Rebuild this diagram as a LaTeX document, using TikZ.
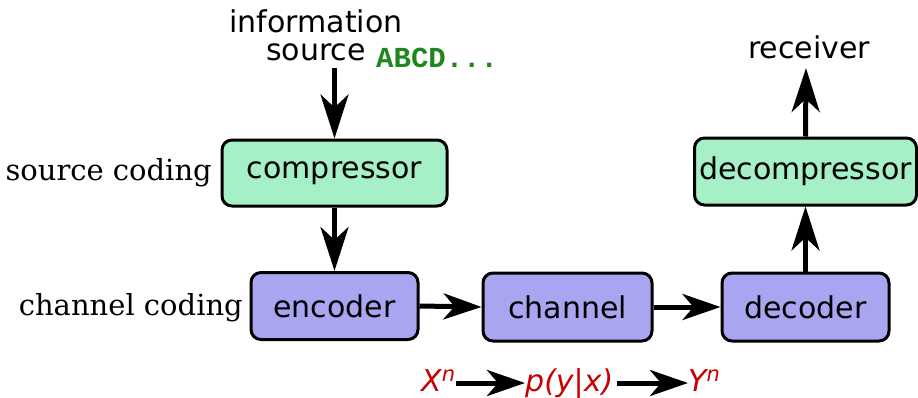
\documentclass[tikz,border=0pt]{standalone}
\usepackage{fontspec}
\setmainfont{DejaVu Sans}
\newfontfamily\lblserif{DejaVu Serif}
\newfontfamily\lblmono{Liberation Mono}
\usetikzlibrary{arrows.meta}
\definecolor{boxgreen}{RGB}{166,240,200}
\definecolor{boxpurple}{RGB}{170,165,240}
\definecolor{sigred}{RGB}{200,0,0}
\definecolor{txtgreen}{RGB}{30,135,30}
\tikzset{
  blk/.style={draw=black, line width=3pt, rounded corners=10pt, inner sep=0pt,
    font=\fontsize{30}{36}\selectfont},
  srcblk/.style={blk, fill=boxgreen},
  chblk/.style={blk, fill=boxpurple},
  lbl/.style={inner sep=0pt, font=\fontsize{30}{36}\selectfont},
  side/.style={inner sep=0pt, font=\lblserif\fontsize{29}{34}\selectfont},
  sig/.style={inner sep=0pt, text=sigred, font=\itshape\fontsize{30}{36}\selectfont},
  arr/.style={line width=5pt, -{Stealth[length=44pt, width=28pt, inset=13pt]}},
  sarr/.style={line width=5pt, -{Stealth[length=38pt, width=26pt, inset=11pt]}},
}
\begin{document}
\begin{tikzpicture}[x=1pt,y=-1pt]
\useasboundingbox (0,0) rectangle (918,397);
% blocks
\node[srcblk, minimum width=225pt, minimum height=66pt] (comp) at (334.5,173) {compressor};
\node[chblk, minimum width=167pt, minimum height=67pt] (enc) at (334.5,306) {encoder};
\node[chblk, minimum width=169pt, minimum height=68pt] (chan) at (567.5,307) {channel};
\node[chblk, minimum width=167pt, minimum height=68pt] (dec) at (805.5,307) {decoder};
\node[srcblk, minimum width=222pt, minimum height=67pt] (decomp) at (805.5,171.5) {decompressor};
% labels
\node[lbl, anchor=base] (info1) at (316,32) {information};
\node[lbl, anchor=base] (info2) at (316,60) {source};
\node[inner sep=0pt, anchor=base west, text=txtgreen, font=\lblmono\bfseries\fontsize{29}{34}\selectfont] (abcd) at (376,67) {ABCD...};
\node[lbl, anchor=base] (recv) at (809,58) {receiver};
\node[side, anchor=base east] (scod) at (212,180) {source coding};
\node[side, anchor=base east] (ccod) at (243,315) {channel coding};
\node[sig, anchor=base west] (xn) at (421,391) {X\textsuperscript{n}};
\node[sig, anchor=base west] (pyx) at (525,391) {p(y|x)};
\node[sig, anchor=base west] (yn) at (688,391) {Y\textsuperscript{n}};
\coordinate (srcstart) at (334.5,68);
\coordinate (recvend) at (806,68);
% connectors
\draw[arr] (srcstart) -- (comp.north -| srcstart);
\draw[arr] (comp.south) -- (enc.north);
\draw[sarr] (enc.east) -- (chan.west);
\draw[sarr] (chan.east) -- (dec.west);
\draw[arr] (dec.north) -- (decomp.south);
\draw[arr] (decomp.north) -- (recvend);
\draw[sarr] ([yshift=8pt]xn.base east) -- ([yshift=8pt]pyx.base west);
\draw[sarr] ([yshift=8pt,xshift=4pt]pyx.base east) -- ([yshift=8pt]yn.base west);
\end{tikzpicture}
\end{document}
